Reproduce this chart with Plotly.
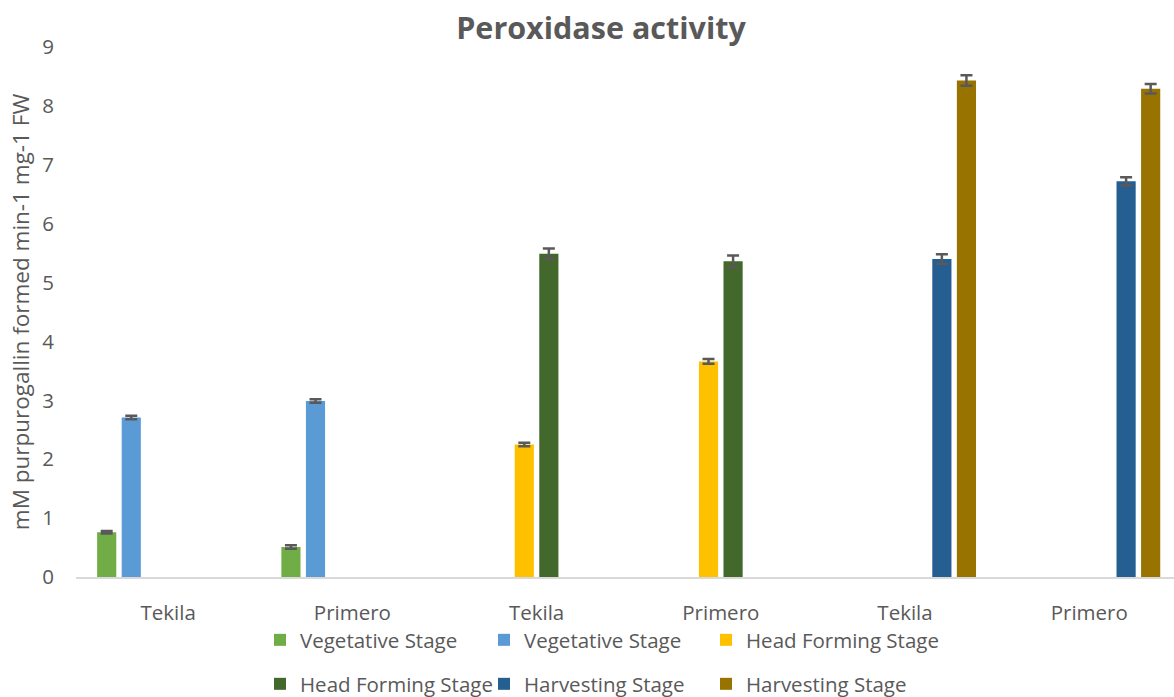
import plotly.graph_objects as go

categories = ["Tekila", "Primero", "Tekila", "Primero", "Tekila", "Primero"]
series_names = ["Vegetative Stage", "Vegetative Stage", "Head Forming Stage",
                "Head Forming Stage", "Harvesting Stage", "Harvesting Stage"]
colors = ["#70AD47", "#5B9BD5", "#FFC000", "#43682B", "#255E91", "#997300"]

veg_a = [0.76, 0.51, None, None, None, None]
veg_b = [2.71, 2.99, None, None, None, None]
head_a = [None, None, 2.25, 3.66, None, None]
head_b = [None, None, 5.49, 5.36, None, None]
harv_a = [None, None, None, None, 5.40, 6.72]
harv_b = [None, None, None, None, 8.43, 8.29]

veg_a_err = [0.02, 0.03, None, None, None, None]
veg_b_err = [0.03, 0.03, None, None, None, None]
head_a_err = [None, None, 0.03, 0.04, None, None]
head_b_err = [None, None, 0.09, 0.10, None, None]
harv_a_err = [None, None, None, None, 0.08, 0.07]
harv_b_err = [None, None, None, None, 0.09, 0.08]

values = [veg_a, veg_b, head_a, head_b, harv_a, harv_b]
errors = [veg_a_err, veg_b_err, head_a_err, head_b_err, harv_a_err, harv_b_err]

xpos = list(range(len(categories)))
FONT = "Open Sans, sans-serif"
GREY = "#595959"

legend_ids = ["legend", "legend2", "legend3", "legend4", "legend5", "legend6"]
legend_x = [260, 484, 706, 260, 484, 706]
legend_y = [640, 640, 640, 684, 684, 684]

fig = go.Figure()
for i, (name, vals, errs, col) in enumerate(zip(series_names, values, errors, colors)):
    fig.add_trace(go.Bar(
        x=xpos, y=vals, name=name,
        marker=dict(color=col, line=dict(width=0)),
        error_y=dict(type="data", array=errs, visible=True,
                     color=GREY, thickness=2.5, width=6),
        legend=legend_ids[i],
    ))

legends = {}
for lid, lx, ly in zip(legend_ids, legend_x, legend_y):
    legends[lid] = dict(orientation="h", xref="container", yref="container",
                        x=lx/1174, y=1-ly/697,
                        xanchor="left", yanchor="middle",
                        font=dict(family=FONT, size=20.5, color=GREY),
                        bgcolor="rgba(0,0,0,0)", itemclick=False,
                        itemdoubleclick=False)

fig.update_layout(
    width=1174, height=697,
    margin=dict(l=76, r=0, t=47, b=120, autoexpand=False),
    paper_bgcolor="white", plot_bgcolor="white",
    barmode="group", bargap=0.2, bargroupgap=0.22,
    title=dict(text="<b>Peroxidase activity</b>", x=601/1174, xanchor="center",
               xref="container", y=1-28/697, yanchor="middle", yref="container",
               font=dict(family=FONT, size=30.5, color=GREY)),
    xaxis=dict(tickmode="array", tickvals=xpos, ticktext=categories,
               range=[-0.5, 5.46], showgrid=False, zeroline=False,
               showline=True, linecolor="#D9D9D9", linewidth=2,
               ticks="outside", ticklen=16, tickcolor="rgba(0,0,0,0)",
               automargin=False,
               tickfont=dict(family=FONT, size=20.5, color=GREY)),
    yaxis=dict(range=[0, 9], dtick=1, showgrid=False, zeroline=False,
               showline=False, ticks="outside", ticklen=17,
               tickcolor="rgba(0,0,0,0)", automargin=False,
               tickfont=dict(family=FONT, size=20.5, color=GREY),
               title=dict(text="mM purpurogallin formed min-1 mg-1 FW",
                          font=dict(family=FONT, size=22.5, color=GREY),
                          standoff=6)),
    showlegend=True,
    **legends,
)

fig.write_html("out.html", config={"displayModeBar": False},
               post_script="document.body.style.margin='0';")
